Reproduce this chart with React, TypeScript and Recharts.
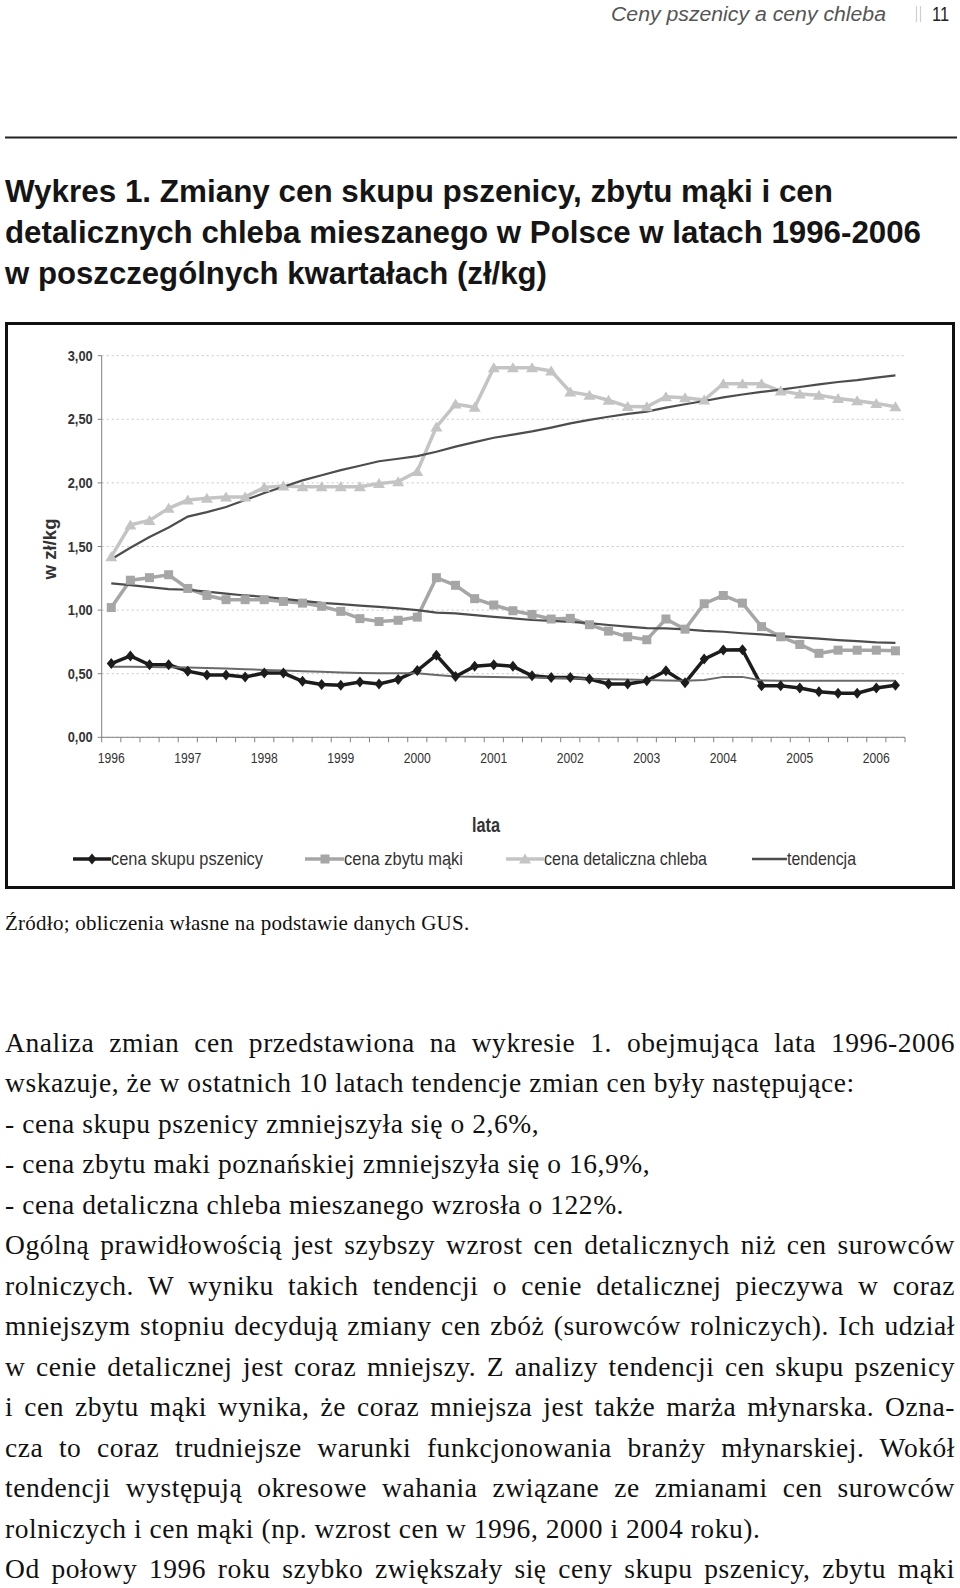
import React from 'react';
import { LineChart, Line, XAxis, YAxis, CartesianGrid } from 'recharts';

// quarterly series 1996 I - 2006 II (zł/kg)
const years = ['1996', '1997', '1998', '1999', '2000', '2001', '2002', '2003', '2004', '2005', '2006'];
const quarters = ['I', 'II', 'III', 'IV'];
const periods = years.flatMap((y) => quarters.map((q) => `${y} ${q}`)).slice(0, 42);

const cenaSkupu = [
  0.58, 0.64, 0.57, 0.57, 0.52, 0.49, 0.49, 0.475, 0.505, 0.505, 0.44, 0.415, 0.41, 0.435,
  0.42, 0.455, 0.525, 0.645, 0.478, 0.558, 0.57, 0.558, 0.483, 0.47, 0.47, 0.458, 0.42, 0.42,
  0.445, 0.523, 0.428, 0.615, 0.686, 0.688, 0.405, 0.405, 0.387, 0.358, 0.346, 0.346, 0.387, 0.41,
];
const cenaZbytu = [
  1.02, 1.235, 1.255, 1.278, 1.17, 1.115, 1.082, 1.082, 1.082, 1.068, 1.055, 1.03, 0.99, 0.933,
  0.91, 0.92, 0.945, 1.255, 1.195, 1.09, 1.04, 0.995, 0.965, 0.93, 0.935, 0.885, 0.835, 0.79,
  0.767, 0.93, 0.85, 1.05, 1.115, 1.055, 0.87, 0.79, 0.73, 0.66, 0.685, 0.685, 0.685, 0.68,
];
const cenaDetal = [
  1.42, 1.67, 1.705, 1.8, 1.865, 1.88, 1.89, 1.89, 1.965, 1.975, 1.97, 1.97, 1.97, 1.97,
  1.995, 2.01, 2.09, 2.44, 2.62, 2.595, 2.905, 2.905, 2.905, 2.88, 2.715, 2.69, 2.65, 2.6,
  2.598, 2.678, 2.67, 2.652, 2.78, 2.78, 2.78, 2.722, 2.698, 2.69, 2.663, 2.645, 2.625, 2.598,
];
const trendSkupu = [
  0.555, 0.555, 0.553, 0.55, 0.548, 0.545, 0.54, 0.535, 0.53, 0.525, 0.52, 0.515, 0.51, 0.505,
  0.503, 0.503, 0.503, 0.49, 0.478, 0.476, 0.474, 0.472, 0.47, 0.467, 0.463, 0.46, 0.457, 0.455,
  0.45, 0.447, 0.445, 0.45, 0.475, 0.475, 0.447, 0.445, 0.445, 0.445, 0.445, 0.445, 0.445, 0.445,
];
const trendZbytu = [
  1.21, 1.196, 1.18, 1.165, 1.16, 1.145, 1.13, 1.115, 1.105, 1.088, 1.073, 1.057, 1.047, 1.035,
  1.026, 1.013, 1.0, 0.98, 0.974, 0.961, 0.947, 0.935, 0.922, 0.916, 0.908, 0.897, 0.883, 0.87,
  0.858, 0.856, 0.848, 0.837, 0.83, 0.818, 0.809, 0.796, 0.785, 0.775, 0.764, 0.756, 0.747, 0.743,
];
const trendDetal = [
  1.4, 1.49, 1.575, 1.65, 1.735, 1.77, 1.81, 1.865, 1.92, 1.97, 2.02, 2.06, 2.1, 2.135,
  2.17, 2.19, 2.21, 2.245, 2.285, 2.32, 2.355, 2.38, 2.405, 2.435, 2.468, 2.495, 2.52, 2.542,
  2.56, 2.592, 2.618, 2.644, 2.672, 2.695, 2.715, 2.734, 2.754, 2.775, 2.793, 2.808, 2.828, 2.846,
];
const yTicks = [0, 0.5, 1, 1.5, 2, 2.5, 3];

const data = periods.map((p, i) => ({
  period: p,
  skup: cenaSkupu[i],
  zbyt: cenaZbytu[i],
  detal: cenaDetal[i],
  tSkup: trendSkupu[i],
  tZbyt: trendZbytu[i],
  tDetal: trendDetal[i],
}));

const BLACK = '#1c1c1c';
const FLOUR = '#a6a6a6';
const BREAD = '#c4c4c4';
const TREND = '#4d4d4d';
const AXIS = '#808080';
const SANS = '"Liberation Sans", Arial, sans-serif';
const SERIF = '"Liberation Serif", "Times New Roman", serif';

const PLOT_W = 803.3;
const BAND = PLOT_W / periods.length;

const diamond = (cx: number, cy: number, key?: any) => (
  <path key={key} d={`M${cx},${cy - 5.5}L${cx + 4.5},${cy}L${cx},${cy + 5.5}L${cx - 4.5},${cy}Z`} fill={BLACK} />
);
const square = (cx: number, cy: number, key?: any) => (
  <rect key={key} x={cx - 4.5} y={cy - 4.5} width={9} height={9} fill={FLOUR} />
);
const triangle = (cx: number, cy: number, key?: any) => (
  <path key={key} d={`M${cx},${cy - 5.5}L${cx + 6},${cy + 4.5}L${cx - 6},${cy + 4.5}Z`} fill={BREAD} />
);

function YearTick(props: any) {
  const { x, y, payload } = props;
  const index = props.index ?? payload.index;
  const left = x - BAND / 2;
  return (
    <g>
      <line x1={left} x2={left} y1={y} y2={y + 5} stroke={AXIS} />
      {index === periods.length - 1 && <line x1={x + BAND / 2} x2={x + BAND / 2} y1={y} y2={y + 5} stroke={AXIS} />}
      {index % 4 === 0 && (
        <text x={x} y={y + 26} textAnchor="middle" fontFamily={SANS} fontSize={14} fill="#333" textLength={27} lengthAdjust="spacingAndGlyphs">
          {String(payload.value).slice(0, 4)}
        </text>
      )}
    </g>
  );
}

function PriceTick(props: any) {
  const { x, y, payload } = props;
  return (
    <text x={x} y={y + 5} textAnchor="end" fontFamily={SANS} fontWeight="bold" fontSize={15} fill="#333" textLength={25} lengthAdjust="spacingAndGlyphs">
      {Number(payload.value).toFixed(2).replace('.', ',')}
    </text>
  );
}

const bodyLines: [string, boolean][] = [
  ['Analiza zmian cen przedstawiona na wykresie 1. obejmująca lata 1996-2006', true],
  ['wskazuje, że w ostatnich 10 latach tendencje zmian cen były następujące:', false],
  ['- cena skupu pszenicy zmniejszyła się o 2,6%,', false],
  ['- cena zbytu maki poznańskiej zmniejszyła się o 16,9%,', false],
  ['- cena detaliczna chleba mieszanego wzrosła o 122%.', false],
  ['Ogólną prawidłowością jest szybszy wzrost cen detalicznych niż cen surowców', true],
  ['rolniczych. W wyniku takich tendencji o cenie detalicznej pieczywa w coraz', true],
  ['mniejszym stopniu decydują zmiany cen zbóż (surowców rolniczych). Ich udział', true],
  ['w cenie detalicznej jest coraz mniejszy. Z analizy tendencji cen skupu pszenicy', true],
  ['i cen zbytu mąki wynika, że coraz mniejsza jest także marża młynarska. Ozna-', true],
  ['cza to coraz trudniejsze warunki funkcjonowania branży młynarskiej. Wokół', true],
  ['tendencji występują okresowe wahania związane ze zmianami cen surowców', true],
  ['rolniczych i cen mąki (np. wzrost cen w 1996, 2000 i 2004 roku).', false],
  ['Od połowy 1996 roku szybko zwiększały się ceny skupu pszenicy, zbytu mąki', true],
];

export default function App() {
  return (
    <div style={{ position: 'absolute', left: 0, top: 0, width: 960, height: 1588, background: '#fff', overflow: 'hidden' }}>
      <div style={{ position: 'absolute', left: 5, top: 322, width: 950, height: 567, boxSizing: 'border-box', border: '3px solid #111' }} />
      <div style={{ position: 'absolute', left: 0, top: 322 }}>
        <LineChart width={960} height={567} data={data} margin={{ top: 33.7, right: 55, bottom: 121.7, left: 41.7 }}>
          <CartesianGrid vertical={false} strokeDasharray="2 3" stroke="#c8c8c8" />
          <XAxis
            dataKey="period"
            interval={0}
            tickSize={0}
            tickMargin={0}
            tickLine={false}
            axisLine={{ stroke: AXIS }}
            height={30}
            padding={{ left: BAND / 2, right: BAND / 2 }}
            tick={(p: any) => <YearTick {...p} />}
          />
          <YAxis
            domain={[0, 3]}
            ticks={yTicks}
            width={60}
            tickSize={4}
            tickMargin={5}
            axisLine={{ stroke: AXIS }}
            tickLine={{ stroke: AXIS }}
            tick={(p: any) => <PriceTick {...p} />}
          />
          <Line dataKey="detal" stroke={BREAD} strokeWidth={3.5} isAnimationActive={false} activeDot={false}
            dot={(p: any) => triangle(p.cx, p.cy, `t-${p.index}`)} />
          <Line dataKey="zbyt" stroke={FLOUR} strokeWidth={3.5} isAnimationActive={false} activeDot={false}
            dot={(p: any) => square(p.cx, p.cy, `s-${p.index}`)} />
          <Line dataKey="skup" stroke={BLACK} strokeWidth={3.5} isAnimationActive={false} activeDot={false}
            dot={(p: any) => diamond(p.cx, p.cy, `d-${p.index}`)} />
          <Line dataKey="tDetal" stroke={TREND} strokeWidth={2.2} dot={false} isAnimationActive={false} activeDot={false} />
          <Line dataKey="tZbyt" stroke={TREND} strokeWidth={2.2} dot={false} isAnimationActive={false} activeDot={false} />
          <Line dataKey="tSkup" stroke="#6a6a6a" strokeWidth={2} dot={false} isAnimationActive={false} activeDot={false} />
        </LineChart>
      </div>

      <svg width={960} height={1588} style={{ position: 'absolute', left: 0, top: 0, pointerEvents: 'none' }}>
        <text x={611} y={21} fontFamily={SANS} fontStyle="italic" fontSize={20} fill="#555" textLength={275} lengthAdjust="spacingAndGlyphs">
          Ceny pszenicy a ceny chleba
        </text>
        <line x1={916.5} x2={916.5} y1={6} y2={22} stroke="#cfcfcf" strokeWidth={1.2} />
        <line x1={920.5} x2={920.5} y1={6} y2={22} stroke="#cfcfcf" strokeWidth={1.2} />
        <text x={932} y={21} fontFamily={SANS} fontSize={20} fill="#222" textLength={17} lengthAdjust="spacingAndGlyphs">11</text>
        <rect x={5} y={136.5} width={952} height={2} fill="#222" />

        <text x={5} y={201.5} fontFamily={SANS} fontWeight="bold" fontSize={31} fill="#151515" textLength={828} lengthAdjust="spacingAndGlyphs">
          Wykres 1. Zmiany cen skupu pszenicy, zbytu mąki i cen
        </text>
        <text x={5} y={243} fontFamily={SANS} fontWeight="bold" fontSize={31} fill="#151515" textLength={916} lengthAdjust="spacingAndGlyphs">
          detalicznych chleba mieszanego w Polsce w latach 1996-2006
        </text>
        <text x={5} y={283.5} fontFamily={SANS} fontWeight="bold" fontSize={31} fill="#151515" textLength={542} lengthAdjust="spacingAndGlyphs">
          w poszczególnych kwartałach (zł/kg)
        </text>

        <text transform="translate(56,549) rotate(-90)" textAnchor="middle" fontFamily={SANS} fontWeight="bold" fontSize={19} fill="#333" textLength={61} lengthAdjust="spacingAndGlyphs">
          w zł/kg
        </text>
        <text x={486} y={832} textAnchor="middle" fontFamily={SANS} fontWeight="bold" fontSize={20} fill="#333" textLength={28} lengthAdjust="spacingAndGlyphs">
          lata
        </text>

        <line x1={73} x2={111} y1={859} y2={859} stroke={BLACK} strokeWidth={3.5} />
        {diamond(92, 859)}
        <text x={111} y={865} fontFamily={SANS} fontSize={19} fill="#333" textLength={152} lengthAdjust="spacingAndGlyphs">cena skupu pszenicy</text>
        <line x1={305} x2={344} y1={859} y2={859} stroke={FLOUR} strokeWidth={3.5} />
        {square(325, 859)}
        <text x={344} y={865} fontFamily={SANS} fontSize={19} fill="#333" textLength={119} lengthAdjust="spacingAndGlyphs">cena zbytu mąki</text>
        <line x1={506} x2={544} y1={859} y2={859} stroke={BREAD} strokeWidth={3.5} />
        {triangle(525, 859)}
        <text x={544} y={865} fontFamily={SANS} fontSize={19} fill="#333" textLength={163} lengthAdjust="spacingAndGlyphs">cena detaliczna chleba</text>
        <line x1={752} x2={787} y1={859} y2={859} stroke={TREND} strokeWidth={2.5} />
        <text x={787} y={865} fontFamily={SANS} fontSize={19} fill="#333" textLength={69} lengthAdjust="spacingAndGlyphs">tendencja</text>
      </svg>

      <div style={{ position: 'absolute', left: 5, top: 903.4, fontFamily: SERIF, fontSize: 21, letterSpacing: 0.25, lineHeight: '40.5px', color: '#111', whiteSpace: 'nowrap' }}>
        Źródło; obliczenia własne na podstawie danych GUS.
      </div>
      {bodyLines.map(([t, j], i) => (
        <div
          key={i}
          style={{
            position: 'absolute',
            left: 5,
            top: 1022.75 + i * 40.5,
            width: 950,
            height: 40.5,
            fontFamily: SERIF,
            fontSize: 27.5,
            letterSpacing: 0.55,
            lineHeight: '40.5px',
            color: '#111',
            textAlign: j ? 'justify' : 'left',
            textAlignLast: j ? 'justify' : 'left',
          }}
        >
          {t}
        </div>
      ))}
    </div>
  );
}
